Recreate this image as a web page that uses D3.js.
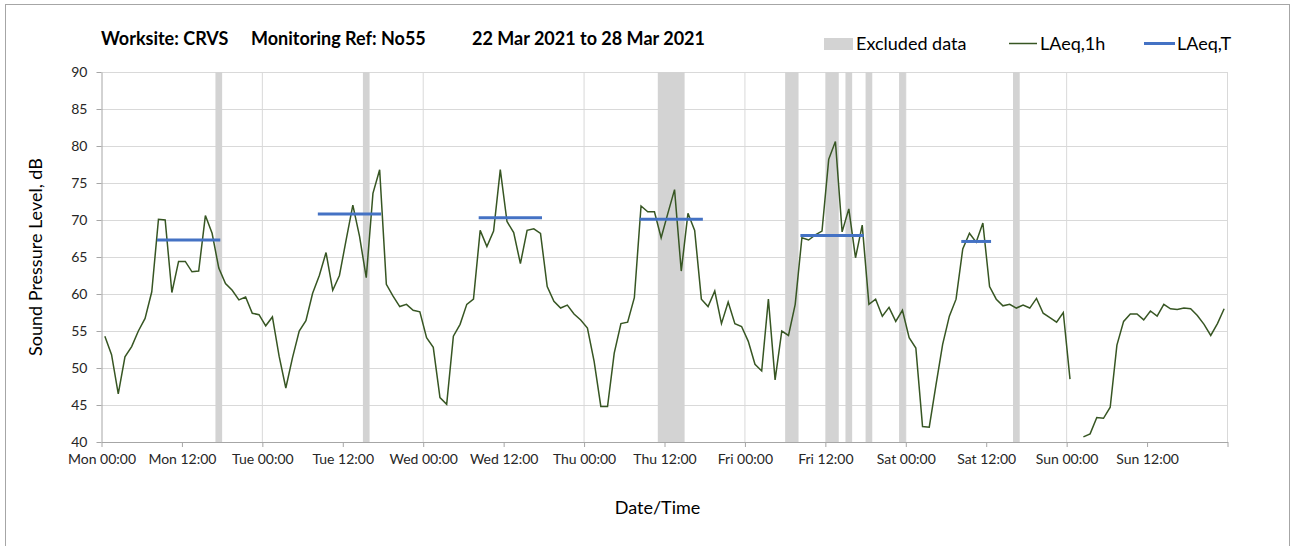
<!DOCTYPE html>
<html>
<head>
<meta charset="utf-8">
<script src="https://cdn.jsdelivr.net/npm/d3@7"></script>
<style>
  body { margin: 0; background: #fff; }
  text { font-family: Lato, "Open Sans", sans-serif; }
</style>
</head>
<body>
<script>
// hourly LAeq,1h values, Mon 22 Mar 2021 00:00 onwards (null = no data)
var laeq1h = [
  54.3, 51.8, 46.5, 51.5, 52.9, 55.0, 56.7, 60.3, 70.1, 70.0, 60.2, 64.4,
  64.4, 63.0, 63.1, 70.6, 68.2, 63.5, 61.4, 60.5, 59.2, 59.6, 57.4, 57.2,
  55.7, 56.9, 51.6, 47.3, 51.4, 55.0, 56.4, 60.1, 62.5, 65.6, 60.5, 62.5,
  67.3, 72.0, 67.8, 62.2, 73.6, 76.8, 61.3, 59.7, 58.3, 58.6, 57.8, 57.6,
  54.1, 52.8, 46.0, 45.1, 54.3, 55.9, 58.6, 59.3, 68.6, 66.4, 68.5, 76.8,
  69.8, 68.3, 64.1, 68.6, 68.8, 68.2, 61.0, 59.0, 58.1, 58.5, 57.3, 56.5,
  55.4, 50.9, 44.8, 44.8, 52.0, 56.0, 56.2, 59.5, 71.9, 71.1, 71.1, 67.6,
  70.9, 74.1, 63.1, 70.9, 68.6, 59.3, 58.3, 60.4, 56.0, 58.9, 56.0, 55.6,
  53.6, 50.5, 49.6, 59.3, 48.4, 55.0, 54.4, 58.6, 67.6, 67.3, 68.0, 68.5,
  78.2, 80.6, 68.4, 71.5, 64.9, 69.3, 58.6, 59.3, 57.0, 58.2, 56.3, 57.8,
  54.1, 52.7, 42.1, 42.0, 47.7, 53.2, 57.0, 59.3, 66.1, 68.2, 67.0, 69.6,
  61.0, 59.3, 58.4, 58.6, 58.1, 58.5, 58.1, 59.4, 57.4, 56.8, 56.2, 57.5,
  48.5, null, 40.7, 41.1, 43.3, 43.2, 44.7, 53.1, 56.3, 57.3, 57.3, 56.5,
  57.7, 57.0, 58.6, 58.0, 57.9, 58.1, 58.0, 57.1, 55.9, 54.4, 56.0, 58.0
];

// LAeq,T periods (hours from start) and levels
var laeqTStart  = [8, 32, 56, 80, 104, 128];
var laeqTEnd    = [18, 42, 66, 90, 114, 133];
var laeqTValues = [67.3, 70.8, 70.3, 70.1, 67.9, 67.1];

// excluded data periods (hours from start)
var excludedStart = [17, 39, 83, 102, 108, 111, 114, 119, 136];
var excludedEnd   = [18, 40, 87, 104, 110, 112, 115, 120, 137];

var yTicks = [40, 45, 50, 55, 60, 65, 70, 75, 80, 85, 90];

var startDate = Date.UTC(2021, 2, 22);
var hourMs = 3600 * 1000;
function hourDate(h) { return new Date(startDate + h * hourMs); }

// set the dimensions and margins of the graph
var margin = {top: 72, left: 101.5},
    width = 1126,
    height = 370;

var svg = d3.select("body")
    .append("svg")
      .attr("width", 1295)
      .attr("height", 546);

// chart border
svg.append("rect")
    .attr("x", 5.5).attr("y", 4.5)
    .attr("width", 1284).attr("height", 560)
    .style("fill", "none")
    .style("stroke", "#a6a6a6");

var g = svg.append("g")
    .attr("transform", "translate(" + margin.left + "," + margin.top + ")");

// set the ranges
var x = d3.scaleUtc()
    .domain([hourDate(0), hourDate(168)])
    .range([0, width]);
var y = d3.scaleLinear().domain([40, 90]).range([height, 0]);

// gridlines
g.selectAll(".hgrid")
    .data(yTicks.slice(1))
  .enter().append("line")
    .attr("x1", 0).attr("x2", width)
    .attr("y1", function(d) { return Math.round(y(d)) + 0.5; })
    .attr("y2", function(d) { return Math.round(y(d)) + 0.5; })
    .style("stroke", "#d9d9d9");

g.selectAll(".vgrid")
    .data(d3.utcDays(hourDate(24), hourDate(169)))
  .enter().append("line")
    .attr("x1", function(d) { return x(d); })
    .attr("x2", function(d) { return x(d); })
    .attr("y1", 0).attr("y2", height)
    .style("stroke", "#d9d9d9");

// excluded data bands
g.selectAll(".excl")
    .data(excludedStart)
  .enter().append("rect")
    .attr("x", function(d) { return x(hourDate(d)); })
    .attr("width", function(d, i) { return x(hourDate(excludedEnd[i])) - x(hourDate(d)); })
    .attr("y", y(90))
    .attr("height", y(40) - y(90))
    .style("fill", "#d3d3d3");

// X axis (last tick at the end of Sunday has no label)
var fmt = d3.utcFormat("%a %H:%M");
var xAxis = g.append("g")
    .attr("transform", "translate(0," + height + ")")
    .call(d3.axisBottom(x)
      .tickValues(d3.utcHours(hourDate(0), hourDate(168.5), 12))
      .tickFormat(function(d) { return +d >= +hourDate(168) ? "" : fmt(d); })
      .tickSize(5).tickSizeOuter(0).tickPadding(7));

// Y axis
var yAxis = g.append("g")
    .call(d3.axisLeft(y)
      .tickValues(yTicks)
      .tickSize(5).tickSizeOuter(0).tickPadding(9));

[xAxis, yAxis].forEach(function(a) {
  a.select(".domain").style("stroke", "#a6a6a6");
  a.selectAll(".tick line").style("stroke", "#a6a6a6");
  a.selectAll(".tick text")
      .style("font-family", "Lato, sans-serif")
      .style("font-size", "14px")
      .style("fill", "#262626");
});

// LAeq,1h line
var valueline = d3.line()
    .defined(function(d) { return d != null; })
    .x(function(d, i) { return x(hourDate(i + 0.5)); })
    .y(function(d) { return y(d); });

g.append("path")
    .data([laeq1h])
    .style("stroke", "#375623")
    .style("stroke-width", "1.5")
    .style("fill", "none")
    .attr("d", valueline);

// LAeq,T segments
g.selectAll(".laeqT")
    .data(laeqTValues)
  .enter().append("line")
    .attr("x1", function(d, i) { return x(hourDate(laeqTStart[i] + 0.5)); })
    .attr("x2", function(d, i) { return x(hourDate(laeqTEnd[i] - 0.5)); })
    .attr("y1", function(d) { return y(d); })
    .attr("y2", function(d) { return y(d); })
    .style("stroke", "#4472c4")
    .style("stroke-width", 3)
    .style("stroke-linecap", "square");

// title
var title = svg.append("text")
    .attr("y", 45)
    .style("font-size", "18px")
    .style("font-weight", "bold")
    .style("fill", "#000");
title.append("tspan").attr("x", 101).text("Worksite: CRVS");
title.append("tspan").attr("x", 251).text("Monitoring Ref: No55");
title.append("tspan").attr("x", 472).text("22 Mar 2021 to 28 Mar 2021");

// legend
svg.append("rect")
    .attr("x", 824).attr("y", 38)
    .attr("width", 29).attr("height", 12)
    .style("fill", "#d3d3d3");
svg.append("text").attr("x", 856).attr("y", 50)
    .style("font-size", "18px").text("Excluded data");
svg.append("line")
    .attr("x1", 1009).attr("x2", 1037).attr("y1", 43.5).attr("y2", 43.5)
    .style("stroke", "#375623").style("stroke-width", 1.5);
svg.append("text").attr("x", 1040).attr("y", 50)
    .style("font-size", "18px").text("LAeq,1h");
svg.append("line")
    .attr("x1", 1144).attr("x2", 1175).attr("y1", 43.5).attr("y2", 43.5)
    .style("stroke", "#4472c4").style("stroke-width", 3);
svg.append("text").attr("x", 1177).attr("y", 50)
    .style("font-size", "18px").text("LAeq,T");

// axis titles
svg.append("text")
    .attr("x", margin.left + width / 2 - 7)
    .attr("y", 514)
    .attr("text-anchor", "middle")
    .style("font-size", "18px")
    .text("Date/Time");

svg.append("text")
    .attr("transform", "translate(42," + (margin.top + height / 2) + ") rotate(-90)")
    .attr("text-anchor", "middle")
    .style("font-size", "18px")
    .text("Sound Pressure Level, dB");
</script>
</body>
</html>
